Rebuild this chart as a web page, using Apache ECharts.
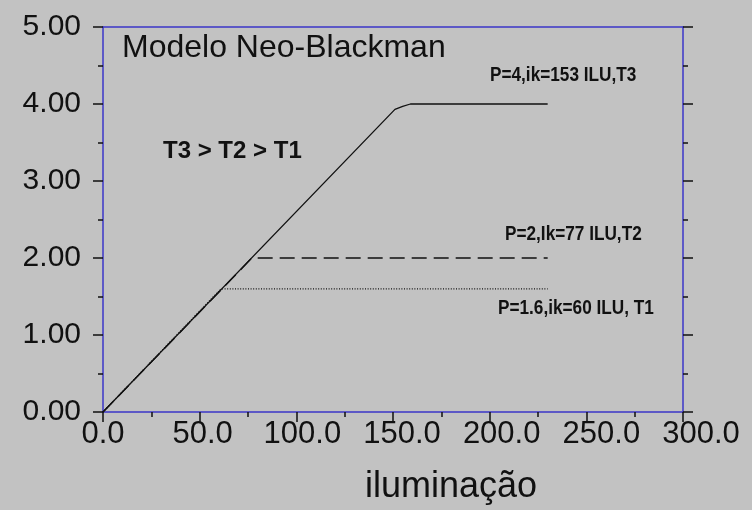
<!DOCTYPE html>
<html>
<head>
<meta charset="utf-8">
<script src="https://cdn.jsdelivr.net/npm/echarts@6/dist/echarts.min.js"></script>
<style>
  html, body { margin: 0; padding: 0; background: #c2c2c2; }
  #chart { width: 752px; height: 510px; }
</style>
</head>
<body>
<div id="chart"></div>
<script>
// Neo-Blackman model: production rises linearly with illumination up to ik, then saturates at P.
const xTicks = [0, 50, 100, 150, 200, 250, 300];
const yTicks = [0, 1, 2, 3, 4, 5];

// T3: P=4, ik=153
const t3Points = [[0, 0], [151, 3.93], [155, 3.97], [159, 4.0], [230, 4.0]];
// T2: P=2, ik=77
const t2Points = [[0, 0], [77, 2.0], [230, 2.0]];
// T1: P=1.6, ik=60
const t1Points = [[0, 0], [61, 1.6], [230, 1.6]];

const seriesNames = ['T3', 'T2', 'T1'];
const annotations = ['P=4,ik=153 ILU,T3', 'P=2,Ik=77 ILU,T2', 'P=1.6,ik=60 ILU, T1'];
const chartTitle = 'Modelo Neo-Blackman';
const orderText = 'T3 > T2 > T1';
const xName = 'iluminação';

const chart = echarts.init(document.getElementById('chart'));

const frameColor = '#3b36c8';
const ink = '#111';
const font = "'Liberation Sans', Arial, sans-serif";

const tickStyle = { color: ink, width: 1.5 };
const frameLine = { show: true, onZero: false, lineStyle: { color: frameColor, width: 1.5 } };

const option = {
  backgroundColor: '#c2c2c2',
  animation: false,
  grid: [
    // plotting frame
    { left: 103, right: 69, top: 27, bottom: 98 },
    // the tick-label row under the frame runs a little wider than the frame itself
    { left: 103, width: 598, top: 27, bottom: 98 }
  ],
  xAxis: [
    {
      type: 'value', gridIndex: 0, min: xTicks[0], max: xTicks[xTicks.length - 1], interval: 50,
      axisLine: frameLine,
      axisTick: { show: true, inside: false, length: 10, lineStyle: tickStyle },
      minorTick: { show: true, splitNumber: 2, length: 5, lineStyle: tickStyle },
      splitLine: { show: false },
      axisLabel: { show: false }
    },
    {
      type: 'value', gridIndex: 0, position: 'top', min: xTicks[0], max: xTicks[xTicks.length - 1], interval: 50,
      axisLine: frameLine,
      axisTick: { show: false }, axisLabel: { show: false }, splitLine: { show: false }
    },
    {
      type: 'value', gridIndex: 1, min: xTicks[0], max: xTicks[xTicks.length - 1], interval: 50,
      axisLine: { show: false }, axisTick: { show: false }, splitLine: { show: false },
      axisLabel: { fontFamily: font, fontSize: 31, color: ink, margin: 8,
        formatter: v => v.toFixed(1) },
      name: xName, nameLocation: 'middle', nameGap: 58,
      nameTextStyle: { fontFamily: font, fontSize: 36, color: ink, padding: [0, 0, 0, 98] }
    }
  ],
  yAxis: [
    {
      type: 'value', gridIndex: 0, min: yTicks[0], max: yTicks[yTicks.length - 1], interval: 1,
      axisLine: frameLine,
      axisTick: { show: true, inside: false, length: 10, lineStyle: tickStyle },
      minorTick: { show: true, splitNumber: 2, length: 5, lineStyle: tickStyle },
      splitLine: { show: false },
      axisLabel: { fontFamily: font, fontSize: 30, color: ink, margin: 22, padding: [0, 0, 12, 0],
        formatter: v => v.toFixed(2) }
    },
    {
      type: 'value', gridIndex: 0, position: 'right', min: yTicks[0], max: yTicks[yTicks.length - 1], interval: 1,
      axisLine: frameLine,
      axisTick: { show: true, inside: false, length: 10, lineStyle: tickStyle },
      minorTick: { show: true, splitNumber: 2, length: 5, lineStyle: tickStyle },
      axisLabel: { show: false }, splitLine: { show: false }
    },
    {
      type: 'value', gridIndex: 1, min: 0, max: 5, show: false
    }
  ],
  series: [
    {
      name: seriesNames[2], type: 'line', xAxisIndex: 0, yAxisIndex: 0, data: t1Points, symbol: 'none', z: 2,
      lineStyle: { color: ink, width: 1.2, type: [1, 1.6] }
    },
    {
      name: seriesNames[1], type: 'line', xAxisIndex: 0, yAxisIndex: 0, data: t2Points, symbol: 'none', z: 3,
      lineStyle: { color: ink, width: 1.4, type: [15, 7] }
    },
    {
      name: seriesNames[0], type: 'line', xAxisIndex: 0, yAxisIndex: 0, data: t3Points, symbol: 'none', z: 4,
      lineStyle: { color: ink, width: 1.3 }
    }
  ],
  graphic: [
    { type: 'text', left: 122, top: 32,
      style: { text: chartTitle, font: '32px ' + font, fill: ink } },
    { type: 'text', left: 163, top: 139,
      style: { text: orderText, font: 'bold 24px ' + font, fill: ink } },
    { type: 'text', x: 490, y: 65, scaleX: 0.86,
      style: { text: annotations[0], font: 'bold 20px ' + font, fill: ink } },
    { type: 'text', x: 505, y: 224, scaleX: 0.86,
      style: { text: annotations[1], font: 'bold 20px ' + font, fill: ink } },
    { type: 'text', x: 498, y: 298, scaleX: 0.86,
      style: { text: annotations[2], font: 'bold 20px ' + font, fill: ink } }
  ]
};

chart.setOption(option);
</script>
</body>
</html>
